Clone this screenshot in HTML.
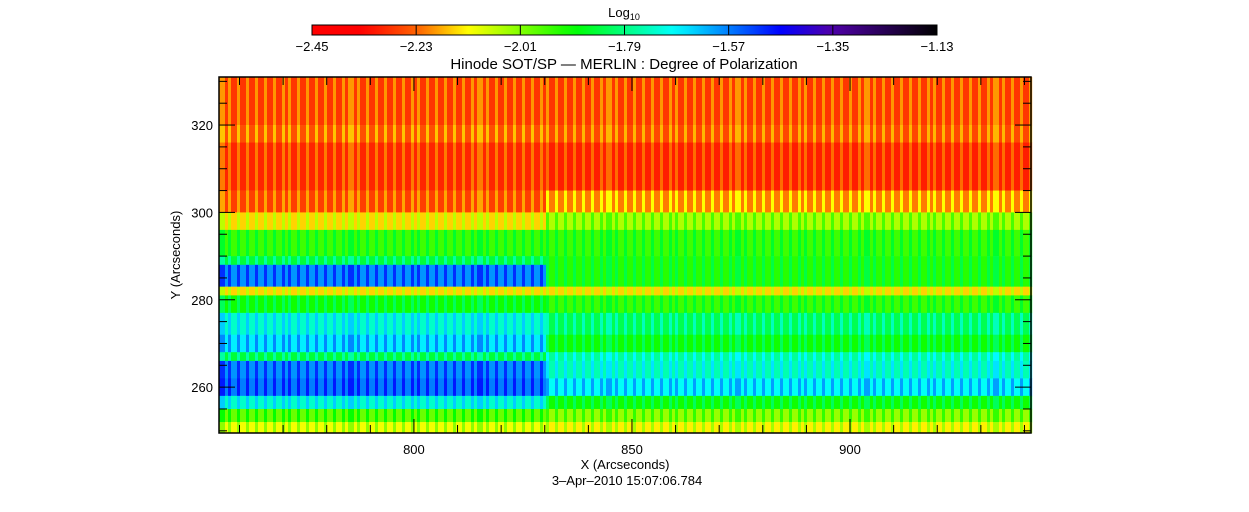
<!DOCTYPE html>
<html><head><meta charset="utf-8"><style>
html,body{margin:0;padding:0;background:#fff;}
body{width:1249px;height:512px;position:relative;overflow:hidden;font-family:"Liberation Sans",sans-serif;}
svg{position:absolute;left:0;top:0;}
text{font-family:"Liberation Sans",sans-serif;font-size:13px;fill:#000;}
</style></head><body>
<svg id="chart" width="1249" height="512">
<defs><linearGradient id="cbgrad" x1="0" x2="1" y1="0" y2="0"></linearGradient></defs>
<g id="colorbar"></g>
<text x="624" y="17" text-anchor="middle">Log<tspan font-size="9" dy="3">10</tspan></text>
<text x="624" y="69" text-anchor="middle" style="font-size:15px">Hinode SOT/SP — MERLIN : Degree of Polarization</text>
<g id="heat"></g>
<g id="axes"></g>
<text x="625" y="469" text-anchor="middle">X (Arcseconds)</text>
<text x="627" y="485" text-anchor="middle">3–Apr–2010 15:07:06.784</text>
<text transform="translate(180,255) rotate(-90)" text-anchor="middle">Y (Arcseconds)</text>
</svg>
<script>
// ---- data ----
const cbTicks = ["-2.45","-2.23","-2.01","-1.79","-1.57","-1.35","-1.13"];
const xTicks = [800,850,900];
const yTicks = [260,280,300,320];
// y bands (arcsec top, bottom) and log10 polarization values, left (x<830) and right (x>=830) halves
const bandTop    = [331,320,316,305,300,296,290,288,283,281,277,272,268,266,262,258,255,252];
const bandBottom = [320,316,305,300,296,290,288,283,281,277,272,268,266,262,258,255,252,249.5];
const valuesLeft = [-2.25,-2.22,-2.27,-2.24,-2.12,-1.92,-1.82,-1.56,-2.12,-1.88,-1.70,-1.64,-1.82,-1.56,-1.54,-1.70,-1.96,-2.08];
const valuesRight= [-2.25,-2.23,-2.28,-2.18,-2.02,-1.92,-1.90,-1.90,-2.12,-1.92,-1.80,-1.88,-1.74,-1.72,-1.66,-1.88,-2.00,-2.10];
const xSplit = 830;
// ---- geometry ----
const PL=219,PR=1031,PT=77,PB=433, X0=755.3,X1=941.5, Y0=249.5,Y1=331;
const xs=v=>PL+(v-X0)/(X1-X0)*(PR-PL);
const ys=v=>PB-(v-Y0)/(Y1-Y0)*(PB-PT);
const VMIN=-2.45,VMAX=-1.13;
const stops=[[0,[255,0,0]],[0.08,[255,0,0]],[0.17,[255,100,0]],[0.25,[255,255,0]],[0.42,[0,255,0]],[0.58,[0,255,255]],[0.75,[0,0,255]],[0.83,[80,0,170]],[1,[0,0,0]]];
function cmap(v){let t=Math.max(0,Math.min(1,(v-VMIN)/(VMAX-VMIN)));
 for(let i=1;i<stops.length;i++){if(t<=stops[i][0]){const a=stops[i-1],b=stops[i],f=(t-a[0])/(b[0]-a[0]||1);
 return `rgb(${a[1].map((c,k)=>Math.round(c+(b[1][k]-c)*f)).join(',')})`;}}return 'rgb(0,0,0)';}
const NS='http://www.w3.org/2000/svg';
function mk(tag,attrs,parent){const e=document.createElementNS(NS,tag);for(const k in attrs)e.setAttribute(k,attrs[k]);parent.appendChild(e);return e;}
// colorbar
const grad=document.getElementById('cbgrad');
for(let i=0;i<=40;i++){mk('stop',{offset:i/40,'stop-color':cmap(VMIN+(VMAX-VMIN)*i/40)},grad);}
const cb=document.getElementById('colorbar');
const cbr=mk('rect',{x:312,y:25,width:625,height:10,fill:'url(#cbgrad)',stroke:'#000','stroke-width':1},cb);


cbTicks.forEach((t,i)=>{const x=312+i*625/(cbTicks.length-1);
 mk('line',{x1:x,x2:x,y1:25,y2:35,stroke:'#000'},cb);
 const tx=mk('text',{x:x,y:51,'text-anchor':'middle'},cb);tx.textContent=t.replace('-','−');
 
 });
// heatmap
const heat=document.getElementById('heat');
const period=8.6;
for(let b=0;b<bandTop.length;b++){
 const y1=ys(bandTop[b]),y2=ys(bandBottom[b]);
 for(let px=PL;px<PR;px+=3){
  const xv=X0+(px-PL)/(PR-PL)*(X1-X0);
  const base=xv<xSplit?valuesLeft[b]:valuesRight[b];
  const ph=((px-PL)%period)/period;
  const v=base+(ph<0.35?0.06:-0.03);
  const r=mk('rect',{x:px,y:y1,width:3.2,height:y2-y1+0.3,fill:cmap(v)},heat);
  
  
 }}
// axes
const ax=document.getElementById('axes');
mk('rect',{x:PL,y:PT,width:PR-PL,height:PB-PT,fill:'none',stroke:'#000','stroke-width':1.5},ax);
for(let v=760;v<=940;v+=10){const x=xs(v),L=(v%50===0)?14:8;
 mk('line',{x1:x,x2:x,y1:PB,y2:PB-L,stroke:'#000'},ax);mk('line',{x1:x,x2:x,y1:PT,y2:PT+L,stroke:'#000'},ax);}
for(let v=250;v<=330;v+=5){const y=ys(v),L=(v%20===0)?16:8;
 mk('line',{x1:PL,x2:PL+L,y1:y,y2:y,stroke:'#000'},ax);mk('line',{x1:PR,x2:PR-L,y1:y,y2:y,stroke:'#000'},ax);}
xTicks.forEach(v=>{const t=mk('text',{x:xs(v),y:454,'text-anchor':'middle'},ax);t.textContent=v;
 
 });
yTicks.forEach(v=>{const t=mk('text',{x:213,y:ys(v)+5,'text-anchor':'end'},ax);t.textContent=v;
 
 });
</script>
</body></html>
